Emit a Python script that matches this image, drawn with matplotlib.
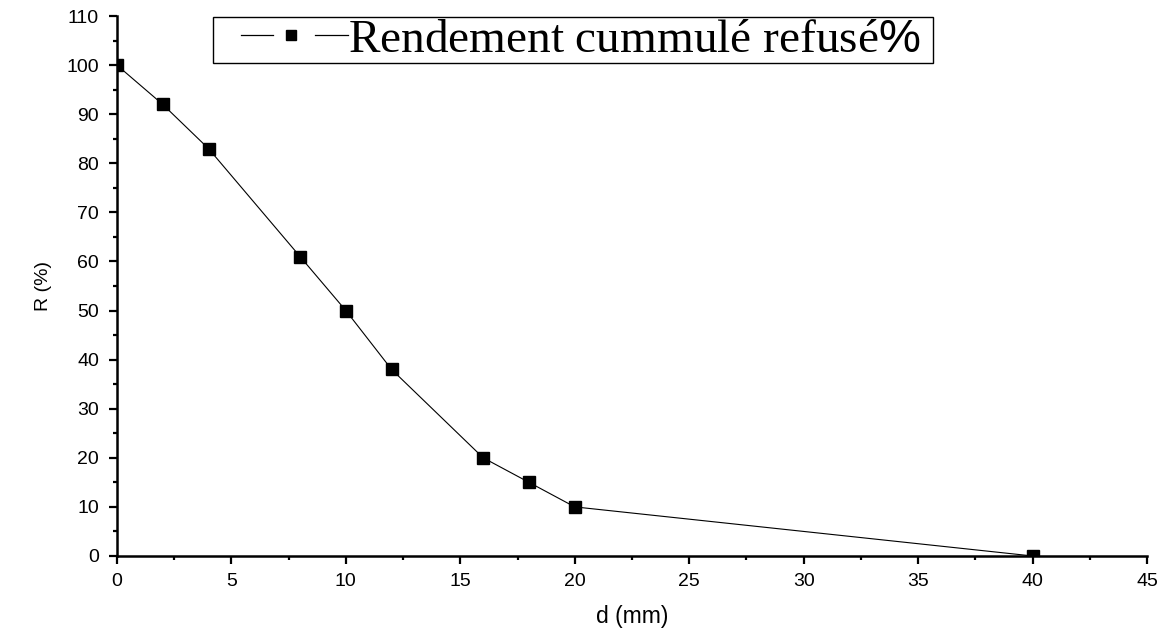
import matplotlib
matplotlib.use("Agg")
import matplotlib.pyplot as plt
from matplotlib.ticker import MultipleLocator
from matplotlib.legend_handler import HandlerBase
from matplotlib.lines import Line2D

d_mm = [0, 2, 4, 8, 10, 12, 16, 18, 20, 40]
R_pct = [100, 92, 83, 61, 50, 38, 20, 15, 10, 0]
legend_label = r"Rendement cummulé refusé$\mathsf{\%}$"
x_label = "d (mm)"
y_label = "R (%)"

plt.rcParams['font.family'] = ['Liberation Sans', 'DejaVu Sans']
plt.rcParams['mathtext.fontset'] = 'custom'
plt.rcParams['mathtext.sf'] = 'Liberation Sans'
plt.rcParams['mathtext.rm'] = 'Liberation Serif'


class GapLineHandler(HandlerBase):
    """Origin-style legend symbol: line - marker - line with gaps."""
    def create_artists(self, legend, orig_handle, xdescent, ydescent,
                       width, height, fontsize, trans):
        y = height / 2 - ydescent
        x0 = -xdescent
        arts = []
        for a, b in [(0.20, 0.44), (0.75, 1.0)]:
            ln = Line2D([x0 + a * width, x0 + b * width], [y, y],
                        color=orig_handle.get_color(), linewidth=0.9,
                        transform=trans)
            arts.append(ln)
        mk = Line2D([x0 + 0.575 * width], [y], linestyle='none', marker='s',
                    markersize=7.5, markerfacecolor='black',
                    markeredgecolor='black', transform=trans)
        arts.append(mk)
        return arts


fig = plt.figure(figsize=(11.66, 6.30), dpi=100)
ax = fig.add_axes([0.1003, 0.1175, 0.8834, 0.857])

line, = ax.plot(d_mm, R_pct, color='black', linewidth=0.8, marker='s',
                markersize=8.5, markerfacecolor='black', markeredgecolor='black',
                label=legend_label, clip_on=True)

ax.set_xlim(0, 45)
ax.set_ylim(0, 110)
ax.xaxis.set_major_locator(MultipleLocator(5))
ax.xaxis.set_minor_locator(MultipleLocator(2.5))
ax.yaxis.set_major_locator(MultipleLocator(10))
ax.yaxis.set_minor_locator(MultipleLocator(5))

for s in ['top', 'right']:
    ax.spines[s].set_visible(False)
for s in ['left', 'bottom']:
    ax.spines[s].set_linewidth(1.8)

ax.tick_params(which='major', direction='out', length=6, width=1.6, labelsize=14)
ax.tick_params(which='minor', direction='out', length=3, width=1.6)
ax.tick_params(axis='x', which='major', pad=6)
ax.tick_params(axis='y', which='major', pad=7)

ax.set_xlabel(x_label, fontsize=16.5, labelpad=11)
ax.set_ylabel(y_label, fontsize=14, labelpad=10)

leg = ax.legend(handles=[line], labels=[legend_label],
                handler_map={line: GapLineHandler()},
                loc='upper left', bbox_to_anchor=(0.093, 0.998, 0.699, 0.0),
                mode='expand', borderaxespad=0,
                prop={'family': 'Liberation Serif', 'size': 34},
                frameon=True, fancybox=False, handlelength=2.84, handletextpad=0.0,
                borderpad=0.03)
leg.get_frame().set_edgecolor('black')
leg.get_frame().set_linewidth(1.0)
leg.get_frame().set_facecolor('white')
leg.get_frame().set_alpha(1)

fig.savefig("out.png", dpi=100)
